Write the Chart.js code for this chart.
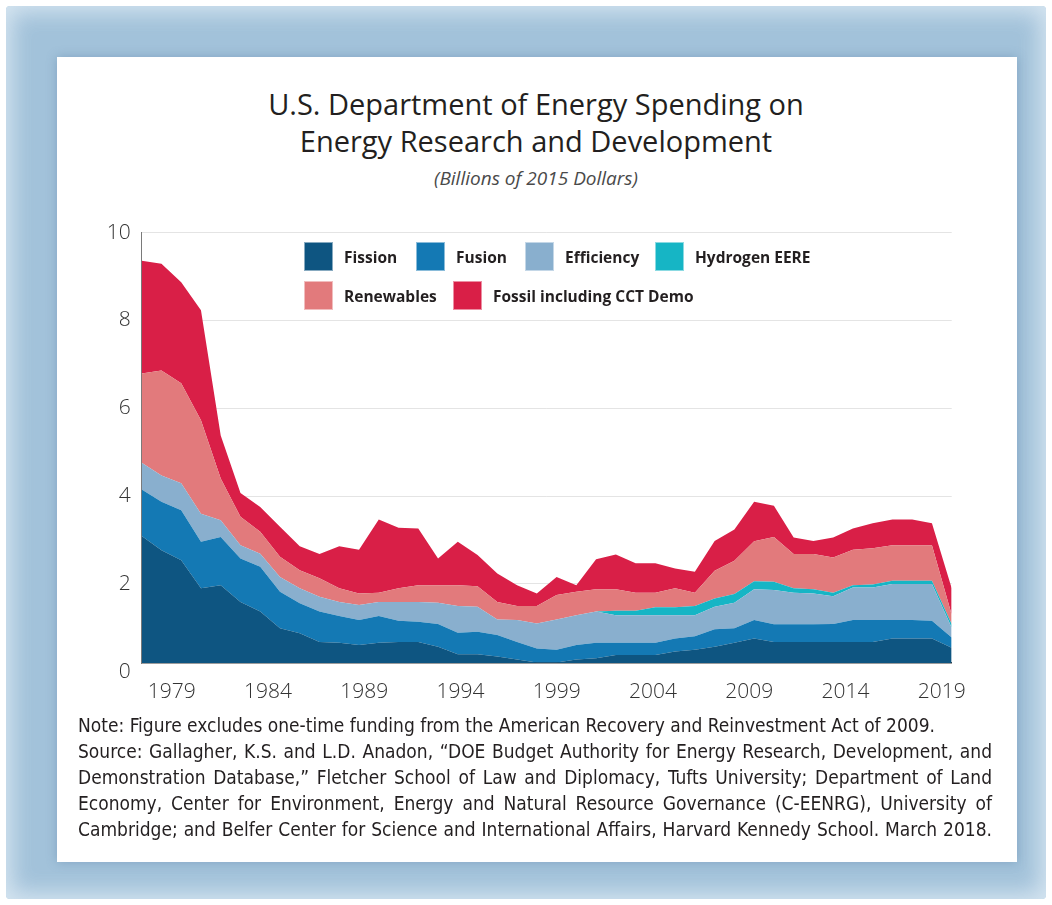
<!DOCTYPE html>
<html lang="en">
<head>
  <meta charset="UTF-8">
  <title>U.S. Department of Energy Spending on Energy Research and Development</title>
  <script src="https://cdn.jsdelivr.net/npm/chart.js"></script>
  <style>
    body {
      margin: 0;
      width: 1052px;
      height: 905px;
      background: #ffffff;
      font-family: 'Open Sans', 'Noto Sans', sans-serif;
      overflow: hidden;
      position: relative;
    }
    .frame {
      position: absolute;
      left: 6px; top: 6px; right: 6px; bottom: 6px;
      background: #a2c2da;
      box-shadow: inset 0 0 22px 6px rgba(220, 233, 243, 0.9);
      border-radius: 4px;
    }
    .card {
      position: absolute;
      left: 57px; top: 57px;
      width: 960px; height: 805px;
      background: #ffffff;
      box-shadow: 0 0 10px rgba(70, 110, 150, 0.35);
    }
    .title {
      position: absolute;
      left: 0; width: 1072px;
      text-align: center;
      color: #231f20;
      font-size: 29px;
      line-height: 37px;
      top: 85px;
    }
    .subtitle {
      position: absolute;
      left: 0; width: 1072px;
      text-align: center;
      top: 165px;
      font-size: 19px;
      font-style: italic;
      color: #4a4a4a;
    }
    #chart {
      position: absolute;
      left: 60px; top: 209px;
    }
    .legend-item {
      position: absolute;
      height: 29px;
      display: flex;
      align-items: center;
      font-size: 15.5px;
      font-weight: 700;
      color: #231f20;
      white-space: nowrap;
    }
    .legend-item span.box {
      width: 29px; height: 29px;
      margin-right: 11px;
      box-sizing: border-box;
      border: 1px solid rgba(255,255,255,0.5);
    }
    .note {
      position: absolute;
      left: 78px; top: 712px;
      width: 914px;
      font-family: 'Liberation Sans Narrow', 'DejaVu Sans Condensed', 'Open Sans', sans-serif;
      font-stretch: condensed;
      font-size: 19px;
      line-height: 26px;
      color: #231f20;
    }
    .note div { white-space: nowrap; }
    .note .j { text-align: justify; text-align-last: justify; }
  </style>
</head>
<body>
  <div class="frame"></div>
  <div class="card"></div>

  <div class="title">U.S. Department of Energy Spending on<br>Energy Research and Development</div>
  <div class="subtitle">(Billions of 2015 Dollars)</div>

  <canvas id="chart" width="940" height="506"></canvas>

  <div id="legend"></div>

  <div class="note">
    <div>Note: Figure excludes one-time funding from the American Recovery and Reinvestment Act of 2009.</div>
    <div class="j">Source: Gallagher, K.S. and L.D. Anadon, “DOE Budget Authority for Energy Research, Development, and</div>
    <div class="j">Demonstration Database,” Fletcher School of Law and Diplomacy, Tufts University; Department of Land</div>
    <div class="j">Economy, Center for Environment, Energy and Natural Resource Governance (C-EENRG), University of</div>
    <div class="j">Cambridge; and Belfer Center for Science and International Affairs, Harvard Kennedy School. March 2018.</div>
  </div>

  <script>
    // fiscal years 1978 - 2019
    const years = [];
    for (let y = 1978; y <= 2019; y++) years.push(y);

    const fission = [3.09, 2.77, 2.54, 1.90, 1.97, 1.59, 1.37, 0.99, 0.88, 0.68, 0.66, 0.61, 0.66, 0.68,
      0.68, 0.57, 0.40, 0.40, 0.35, 0.28, 0.21, 0.21, 0.28, 0.31, 0.38, 0.38, 0.38, 0.46, 0.50, 0.57,
      0.66, 0.76, 0.68, 0.68, 0.68, 0.68, 0.68, 0.68, 0.76, 0.76, 0.76, 0.55];
    const fusion = [1.06, 1.10, 1.14, 1.06, 1.10, 0.99, 1.02, 0.83, 0.68, 0.69, 0.61, 0.57, 0.61, 0.48,
      0.46, 0.52, 0.49, 0.51, 0.49, 0.40, 0.32, 0.29, 0.33, 0.35, 0.28, 0.28, 0.28, 0.30, 0.31, 0.40,
      0.33, 0.42, 0.40, 0.40, 0.40, 0.41, 0.50, 0.50, 0.42, 0.42, 0.40, 0.23];
    const efficiency = [0.61, 0.60, 0.61, 0.64, 0.38, 0.30, 0.30, 0.34, 0.34, 0.34, 0.32, 0.34, 0.32, 0.43,
      0.45, 0.48, 0.61, 0.57, 0.35, 0.50, 0.57, 0.69, 0.68, 0.71, 0.63, 0.63, 0.63, 0.53, 0.48, 0.51,
      0.58, 0.70, 0.78, 0.72, 0.70, 0.63, 0.74, 0.74, 0.82, 0.82, 0.84, 0.22];
    const hydrogen = [0, 0, 0, 0, 0, 0, 0, 0, 0, 0, 0, 0, 0, 0,
      0, 0, 0, 0, 0, 0, 0, 0, 0, 0, 0.10, 0.10, 0.18, 0.18, 0.21, 0.19,
      0.20, 0.18, 0.19, 0.10, 0.10, 0.08, 0.05, 0.07, 0.07, 0.07, 0.07, 0.08];
    const renewables = [2.03, 2.39, 2.28, 2.13, 0.95, 0.65, 0.50, 0.46, 0.41, 0.42, 0.31, 0.26, 0.21, 0.31,
      0.38, 0.40, 0.47, 0.47, 0.40, 0.32, 0.40, 0.56, 0.53, 0.51, 0.49, 0.41, 0.33, 0.43, 0.30, 0.63,
      0.76, 0.91, 1.02, 0.78, 0.80, 0.80, 0.81, 0.82, 0.81, 0.81, 0.81, 0.22];
    const fossil = [2.57, 2.43, 2.30, 2.50, 0.98, 0.54, 0.56, 0.68, 0.55, 0.55, 0.96, 1.00, 1.67, 1.38,
      1.29, 0.61, 0.99, 0.71, 0.65, 0.47, 0.28, 0.41, 0.15, 0.68, 0.79, 0.67, 0.67, 0.45, 0.48, 0.68,
      0.71, 0.90, 0.71, 0.38, 0.30, 0.46, 0.48, 0.57, 0.59, 0.59, 0.50, 0.60];

    const yTicks = [0, 2, 4, 6, 8, 10];
    const xTicks = [1979, 1984, 1989, 1994, 1999, 2004, 2009, 2014, 2019];

    const series = [
      { label: 'Fission', data: fission, color: '#0e5581' },
      { label: 'Fusion', data: fusion, color: '#1479b4' },
      { label: 'Efficiency', data: efficiency, color: '#89afce' },
      { label: 'Hydrogen EERE', data: hydrogen, color: '#16b5c5' },
      { label: 'Renewables', data: renewables, color: '#e27a7c' },
      { label: 'Fossil including CCT Demo', data: fossil, color: '#d91f47' }
    ];

    // legend laid out like the original, two rows inside the plot
    const legendPos = [
      [304, 242], [416, 242], [525, 242], [655, 242],
      [304, 281], [453, 281]
    ];
    const legend = document.getElementById('legend');
    series.forEach((s, i) => {
      const item = document.createElement('div');
      item.className = 'legend-item';
      item.style.left = legendPos[i][0] + 'px';
      item.style.top = legendPos[i][1] + 'px';
      item.innerHTML = '<span class="box" style="background:' + s.color + '"></span>' + s.label;
      legend.appendChild(item);
    });

    const tickFont = { family: "'Open Sans', sans-serif", size: 21, weight: 300 };

    // the zero label sits a little below the plot floor in the original
    const zeroLabel = {
      id: 'zeroLabel',
      afterDraw(chart) {
        const y = chart.scales.y;
        const ctx = chart.ctx;
        ctx.save();
        ctx.font = '300 21px "Open Sans", sans-serif';
        ctx.fillStyle = '#333';
        ctx.textAlign = 'right';
        ctx.textBaseline = 'middle';
        ctx.fillText(String(yTicks[0]), y.right - 11, y.getPixelForValue(yTicks[0]));
        ctx.restore();
      }
    };

    new Chart(document.getElementById('chart'), {
      type: 'line',
      data: {
        datasets: series.map((s, i) => ({
          label: s.label,
          data: s.data.map((v, k) => ({ x: years[k], y: v })),
          backgroundColor: s.color,
          borderWidth: 0,
          pointRadius: 0,
          tension: 0,
          fill: i === 0 ? 'origin' : '-1'
        }))
      },
      options: {
        responsive: false,
        animation: false,
        layout: { padding: { top: 11, right: 48.3, left: 0, bottom: 0 } },
        plugins: {
          legend: { display: false },
          tooltip: { enabled: false }
        },
        scales: {
          x: {
            type: 'linear',
            min: 1978,
            max: 2019,
            display: false
          },
          xLabels: {
            type: 'linear',
            position: 'bottom',
            min: 1977.44,
            max: 2019.52,
            z: 1,
            afterBuildTicks: (scale) => { scale.ticks = xTicks.map(v => ({ value: v })); },
            afterFit: (scale) => { scale.height = 52; },
            grid: { display: false, drawTicks: false },
            border: { display: true, color: '#3a3a3a', width: 1.5 },
            ticks: {
              font: tickFont,
              color: '#333',
              padding: 16,
              maxRotation: 0,
              callback: (v) => String(v)
            }
          },
          y: {
            type: 'linear',
            stacked: true,
            min: 0.2,
            max: 10,
            afterBuildTicks: (scale) => { scale.ticks = yTicks.slice(1).map(v => ({ value: v })); },
            afterFit: (scale) => { scale.width = 81.7; },
            grid: { color: '#e4e4e4', lineWidth: 1, drawTicks: false },
            border: { display: true, color: '#7a7a7a', width: 1 },
            ticks: {
              font: tickFont,
              color: '#333',
              padding: 11
            }
          }
        }
      },
      plugins: [zeroLabel]
    });
  </script>
</body>
</html>
